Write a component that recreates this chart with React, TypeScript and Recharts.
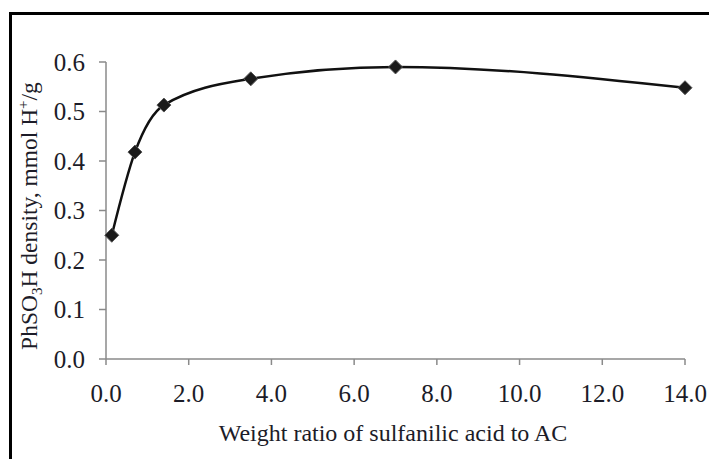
import React from 'react';
import { ComposedChart, Line, XAxis, YAxis } from 'recharts';

// weight ratio of sulfanilic acid to AC
const ratios = [0.14, 0.7, 1.4, 3.5, 7.0, 14.0];
// PhSO3H density, mmol H+/g
const density = [0.25, 0.418, 0.513, 0.566, 0.59, 0.548];

const xTicks = [0, 2, 4, 6, 8, 10, 12, 14];
const yTicks = [0, 0.1, 0.2, 0.3, 0.4, 0.5, 0.6];

const data = ratios.map((r, i) => ({ ratio: r, density: density[i] }));

const FONT = '"Liberation Serif", "Times New Roman", serif';
const AXIS_GRAY = '#8a8a8a';
const TEXT = '#1c1c28';

const Diamond = (props: any) => {
  const { cx, cy } = props;
  if (cx == null || cy == null) return null;
  const r = 7;
  return (
    <polygon
      points={`${cx},${cy - r} ${cx + r},${cy} ${cx},${cy + r} ${cx - r},${cy}`}
      fill="#1a1a1a"
      stroke="#555"
      strokeWidth={1}
    />
  );
};

const YLabel = () => (
  <text
    transform="translate(37, 216) rotate(-90)"
    textAnchor="middle"
    fontFamily={FONT}
    fontSize={23.5}
    fill={TEXT}
  >
    PhSO<tspan fontSize={15} dy={5}>3</tspan>
    <tspan dy={-5}>H density, mmol H</tspan>
    <tspan fontSize={15} dy={-9}>+</tspan>
    <tspan dy={9}>/g</tspan>
  </text>
);

const XLabel = () => (
  <text x={393} y={441} textAnchor="middle" fontFamily={FONT} fontSize={24} fill={TEXT}>
    Weight ratio of sulfanilic acid to AC
  </text>
);

export default function App() {
  return (
    <div style={{ position: 'absolute', left: 0, top: 0, width: 709, height: 459, background: '#fff' }}>
      <div
        style={{
          position: 'absolute',
          left: 9,
          top: 12,
          width: 700,
          height: 447,
          borderTop: '3px solid #000',
          borderLeft: '3px solid #000',
          boxSizing: 'border-box',
        }}
      />
      <div style={{ position: 'absolute', left: 0, top: 0 }}>
        <ComposedChart
          width={709}
          height={459}
          data={data}
          margin={{ top: 62, right: 24, bottom: 70, left: 0 }}
        >
          <XAxis
            dataKey="ratio"
            type="number"
            domain={[0, 14]}
            ticks={xTicks}
            tickFormatter={(v: number) => v.toFixed(1)}
            height={30}
            stroke={AXIS_GRAY}
            strokeWidth={1.5}
            tickSize={6}
            tickMargin={19}
            tick={{ fill: TEXT, fontSize: 25, fontFamily: FONT }}
            interval={0}
          />
          <YAxis
            type="number"
            domain={[0, 0.6]}
            ticks={yTicks}
            tickFormatter={(v: number) => v.toFixed(1)}
            width={106}
            stroke={AXIS_GRAY}
            strokeWidth={1.5}
            tickSize={7}
            tickMargin={14}
            tick={{ fill: TEXT, fontSize: 25, fontFamily: FONT }}
            interval={0}
          />
          <Line
            type="monotone"
            dataKey="density"
            stroke="#111"
            strokeWidth={2.5}
            dot={<Diamond />}
            activeDot={false}
            isAnimationActive={false}
          />
          <YLabel />
          <XLabel />
        </ComposedChart>
      </div>
    </div>
  );
}
